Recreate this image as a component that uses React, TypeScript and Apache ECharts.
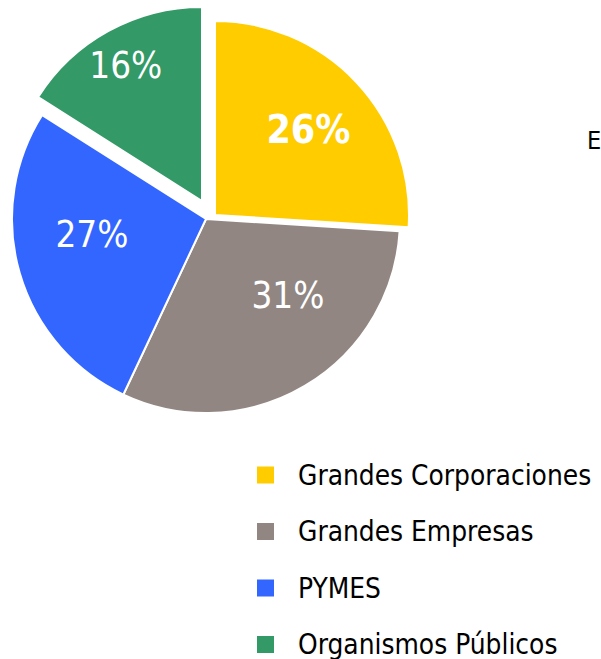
import React, { useEffect, useRef } from 'react';
import * as echarts from 'echarts';

const categories = ['Grandes Corporaciones', 'Grandes Empresas', 'PYMES', 'Organismos Públicos'];
const values = [26, 31, 27, 16];
const colors = ['#FFCC00', '#918682', '#3366FF', '#339966'];
const labelBold = [true, false, false, false];
// each pie layer shows some slices; exploded slices get their own layer centre
const layers = [
  { show: [1, 2], center: [206, 219] },
  { show: [0], center: [215, 215] },
  { show: [3], center: [202, 201] },
];
const labelShift = [
  [20.5, -17],
  [31, -9.5],
  [-18, -12],
  [-28, -48],
];
const FONT = '"DejaVu Sans Condensed", "DejaVu Sans", sans-serif';

export default function App() {
  const ref = useRef<HTMLDivElement>(null);
  useEffect(() => {
    if (!ref.current) return;
    const chart = echarts.init(ref.current, undefined, { renderer: 'svg' });
    chart.setOption({
      animation: false,
      backgroundColor: '#ffffff',
      legend: {
        orient: 'vertical',
        left: 257,
        top: 461,
        height: 230,
        padding: 0,
        itemWidth: 17,
        itemHeight: 17,
        itemGap: 28.5,
        icon: 'rect',
        selectedMode: false,
        data: categories.map((name, i) => ({
          name,
          itemStyle: { color: colors[i], opacity: 1, borderWidth: 0 },
        })),
        formatter: (name: string) => `{gap|}${name}`,
        textStyle: {
          fontFamily: FONT,
          fontSize: 27.8,
          color: '#000000',
          lineHeight: 28,
          rich: { gap: { width: 19 } },
        },
      },
      graphic: [
        {
          type: 'text',
          x: 587,
          y: 140,
          style: { text: 'E', fontFamily: FONT, fontSize: 25, fill: '#000000', verticalAlign: 'middle' },
        },
      ],
      series: layers.map((layer) => ({
        type: 'pie',
        center: layer.center,
        radius: 194,
        startAngle: 90,
        clockwise: true,
        silent: true,
        percentPrecision: 0,
        avoidLabelOverlap: false,
        emphasis: { disabled: true },
        labelLine: { show: false },
        label: {
          show: true,
          position: 'inside',
          color: '#ffffff',
          fontFamily: FONT,
          fontSize: 36,
          formatter: '{d}%',
        },
        labelLayout: (p: any) => ({ dx: labelShift[p.dataIndex][0], dy: labelShift[p.dataIndex][1] }),
        data: categories.map((name, i) => {
          const vis = layer.show.includes(i);
          return {
            name,
            value: values[i],
            itemStyle: vis
              ? { color: colors[i], borderColor: '#ffffff', borderWidth: 2 }
              : { color: colors[i], opacity: 0, borderWidth: 0 },
            label: vis
              ? { show: true, fontWeight: labelBold[i] ? 'bold' : 'normal', fontSize: labelBold[i] ? 39 : 36.5 }
              : { show: false },
          };
        }),
      })),
    });
    return () => chart.dispose();
  }, []);
  return <div ref={ref} style={{ position: 'fixed', left: 0, top: 0, width: 601, height: 659 }} />;
}
